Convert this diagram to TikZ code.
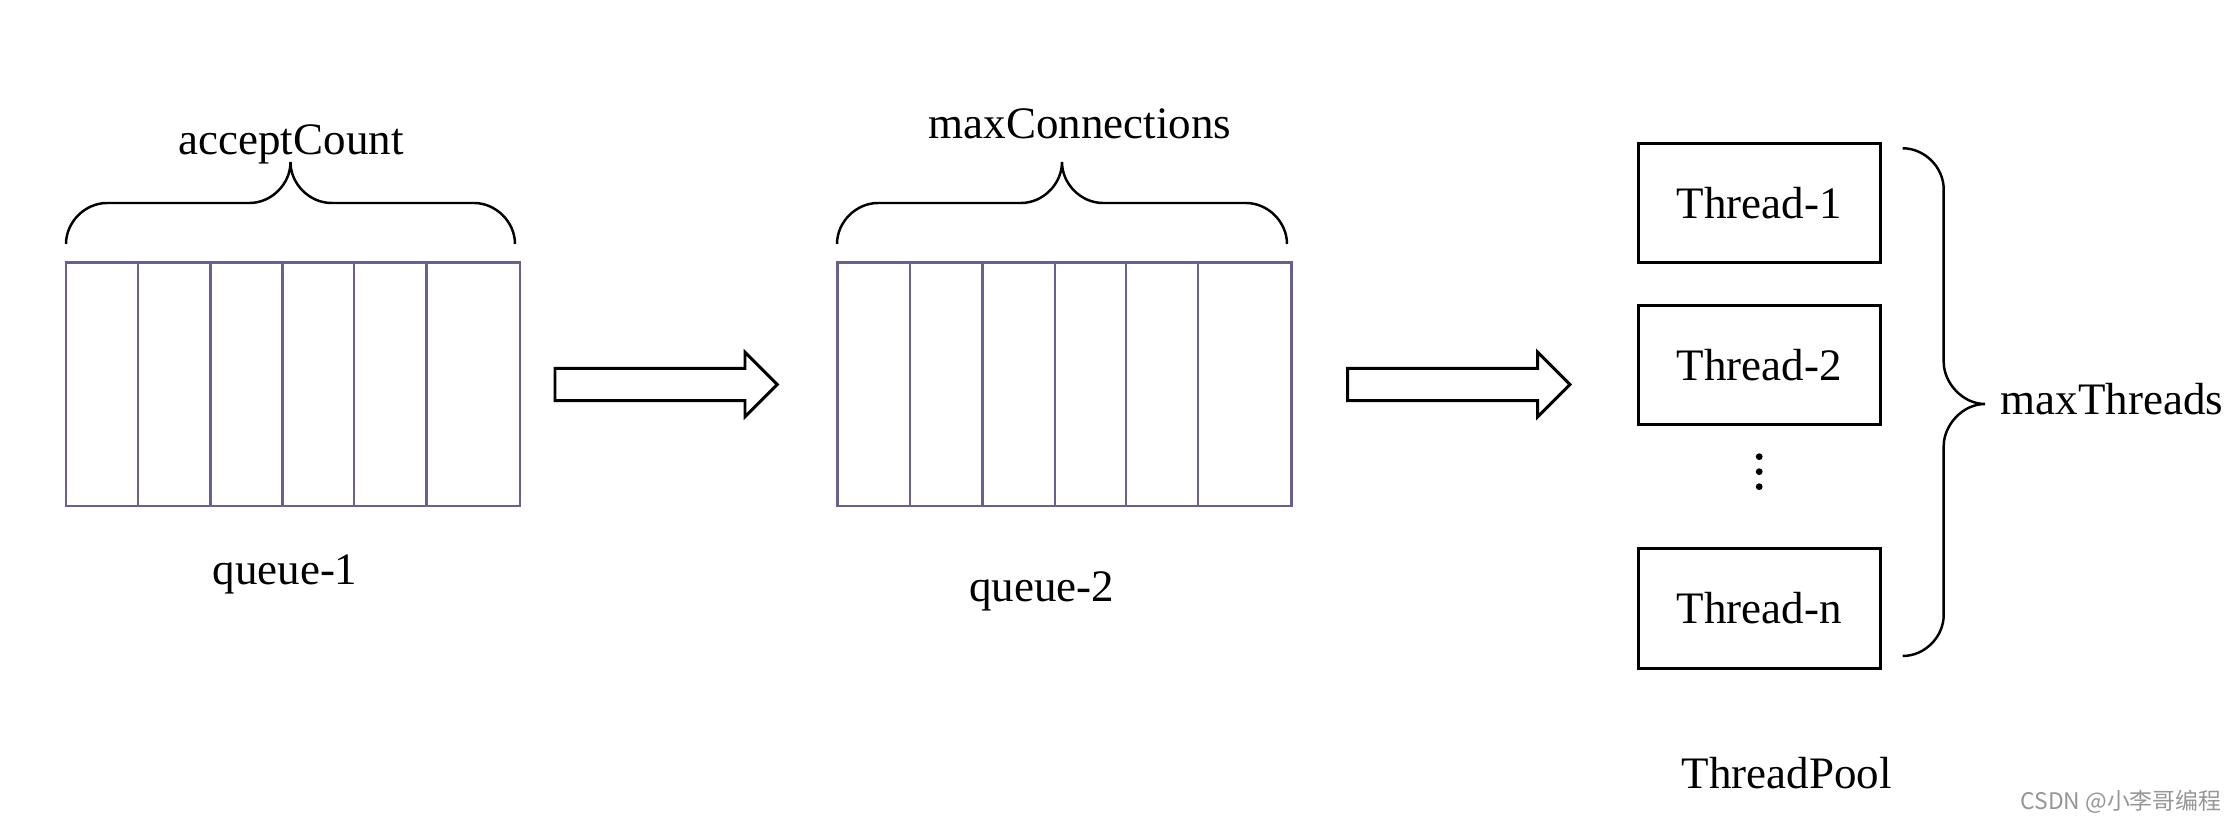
\documentclass[tikz,border=0pt]{standalone}
\usepackage{fontspec}
\setmainfont{Liberation Serif}
\newfontfamily\cjkfont{Noto Sans CJK SC}
\usetikzlibrary{positioning}
\usetikzlibrary{calc}
\definecolor{queueline}{RGB}{104,96,146}
\definecolor{markgray}{RGB}{150,150,150}
\tikzset{
  queuepen/.style={draw=queueline,line width=0.7pt},
  bracepen/.style={draw=black,line width=0.7pt},
  lbl/.style={font=\fontsize{12.8}{15}\selectfont,inner sep=0pt},
  threadbox/.style={lbl,draw,line width=0.85pt,minimum width=2.42cm,minimum height=1.19cm},
  blockarrow/.style={draw,line width=0.85pt,line join=miter},
}
% brace opening downwards: #1 left x, #2 right x, #3 y of the feet
\newcommand{\bracetop}[3]{%
  \draw[bracepen] (#1,#3) .. controls (#1,{#3-22}) and ({#1+19},{#3-41}) .. ({#1+41},{#3-41})
    -- ({(#1+#2)/2-41},{#3-41}) .. controls ({(#1+#2)/2-19},{#3-41}) and ({(#1+#2)/2},{#3-60}) .. ({(#1+#2)/2},{#3-82})
    .. controls ({(#1+#2)/2},{#3-60}) and ({(#1+#2)/2+19},{#3-41}) .. ({(#1+#2)/2+41},{#3-41})
    -- ({#2-41},{#3-41}) .. controls ({#2-19},{#3-41}) and (#2,{#3-22}) .. (#2,#3);}

\begin{document}
\begin{tikzpicture}[x=0.01cm,y=-0.01cm]
\fill[white] (0,0) rectangle (2238,822);
\useasboundingbox (0,0) rectangle (2238,822);

% queue-1
\draw[queuepen] (66,262.7) rectangle (520,506);
\draw[queuepen] (138,262.7) -- (138,506) (210.7,262.7) -- (210.7,506) (282.7,262.7) -- (282.7,506)
  (354,262.7) -- (354,506) (426.7,262.7) -- (426.7,506);
\bracetop{66}{515}{244}
\node[lbl,anchor=base] (accept) at (291,155) {acceptCount};
\node[lbl,anchor=base] (q1lbl) at (285,585) {queue-1};

% queue-2
\draw[queuepen] (837.3,262.7) rectangle (1291.7,506);
\draw[queuepen] (910,262.7) -- (910,506) (982.7,262.7) -- (982.7,506) (1055,262.7) -- (1055,506)
  (1126,262.7) -- (1126,506) (1198,262.7) -- (1198,506);
\bracetop{837}{1287}{244}
\node[lbl,anchor=base] (maxconn) at (1080,138.3) {maxConnections};
\node[lbl,anchor=base] (q2lbl) at (1041.7,601.7) {queue-2};

% block arrows
\coordinate (a1) at (555,368.3);
\coordinate (a2) at (1347.6,368.3);
\draw[blockarrow] (a1) -- ++(190,0) -- ++(0,-16.1) -- ++(32.3,32.3) -- ++(-32.3,32.3) -- ++(0,-16.1) -- ++(-190,0) -- cycle;
\draw[blockarrow] (a2) -- ++(190,0) -- ++(0,-16.1) -- ++(32.3,32.3) -- ++(-32.3,32.3) -- ++(0,-16.1) -- ++(-190,0) -- cycle;

% thread pool
\node[threadbox] (t1) at (1759.2,203.3) {Thread-1};
\node[threadbox,below=0.40cm of t1] (t2) {Thread-2};
\node[threadbox,below=1.21cm of t2] (tn) {Thread-n};
\coordinate (dots) at (1759.2,471.7);
\fill ($(dots)+(0,-15)$) circle (0.034cm) (dots) circle (0.034cm) ($(dots)+(0,15)$) circle (0.034cm);
\draw[bracepen] (1902.7,148.3) .. controls (1924.7,148.3) and (1943.7,167.3) .. (1943.7,189.3)
  -- (1943.7,362) .. controls (1943.7,383) and (1962.7,404) .. (1985,404)
  .. controls (1962.7,404) and (1943.7,425) .. (1943.7,446) -- (1943.7,615)
  .. controls (1943.7,637) and (1924.7,656) .. (1902.7,656);
\node[lbl,anchor=base west] (maxthr) at (2000,415) {maxThreads};
\node[lbl,anchor=base] (pool) at (1786.7,788.3) {ThreadPool};

\node[anchor=east,inner sep=0pt,text=markgray,font=\cjkfont\fontsize{6.5}{8}\selectfont] (mark) at (2222,802) {CSDN @小李哥编程};
\end{tikzpicture}
\end{document}
